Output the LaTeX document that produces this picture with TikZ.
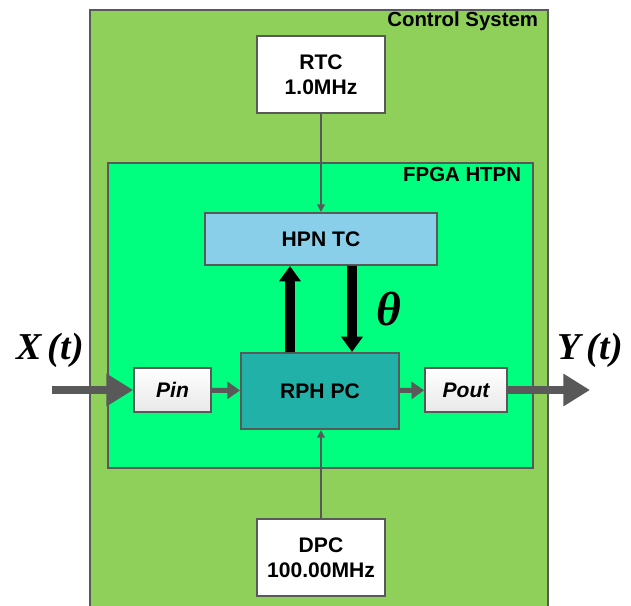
\documentclass[tikz,border=0pt]{standalone}
\usepackage{amsmath,amssymb}
\usepackage{fontspec}
\setmainfont{Liberation Sans}
\newfontfamily\timesfont{Liberation Serif}
\usepackage{tikz}
\usetikzlibrary{arrows.meta,positioning,calc}
\definecolor{EdgeGray}{HTML}{595959}
\definecolor{CtrlGreen}{HTML}{8FD05A}
\definecolor{FpgaGreen}{HTML}{00FF7F}
\definecolor{HpnBlue}{HTML}{8ACFEA}
\definecolor{RphTeal}{HTML}{21B1A8}

\begin{document}
\begin{tikzpicture}[x=0.025cm, y=-0.025cm,
  every node/.style={font=\bfseries\fontsize{14.5}{17}\selectfont},
  clkbox/.style={draw=EdgeGray, line width=1.6pt, fill=white, align=center, minimum width=3.2cm, minimum height=1.925cm, font=\bfseries\fontsize{15}{18}\selectfont},
  portbox/.style={draw=EdgeGray, line width=1.2pt, top color=white, bottom color=black!9, minimum height=1.1cm, font=\bfseries\itshape\fontsize{15}{17}\selectfont},
  flow/.style={-{Triangle[width=12pt,length=9pt]}, line width=3.6pt, draw=EdgeGray},
  bigflow/.style={-{Triangle[width=22pt,length=19pt]}, line width=5.5pt, draw=EdgeGray},
  thin/.style={-{Triangle[width=5.5pt,length=5.5pt]}, line width=1.1pt, draw=EdgeGray},
  fat/.style={-{Triangle[width=15pt,length=11pt]}, line width=7pt, draw=black},
  mathlbl/.style={font=\timesfont\bfseries\itshape\fontsize{27}{30}\selectfont}]
\useasboundingbox (0,0) rectangle (631,605);
% containers
\begin{scope}
\clip (0,0) rectangle (631,605);
\draw[draw=EdgeGray, line width=1.2pt, fill=CtrlGreen] (90,10) rectangle (548,612);
\end{scope}
\node[anchor=east] (ctrllbl) at (543,21) {Control System};
\draw[draw=EdgeGray, line width=1.4pt, fill=FpgaGreen] (108,163) rectangle (533,468);
\node[anchor=east] (fpgalbl) at (526,174) {FPGA HTPN};
% blocks
\node[clkbox] (rtc) at (321,74.5) {RTC\\1.0MHz};
\node[clkbox] (dpc) at (321,557.5) {DPC\\100.00MHz};
\node[draw=EdgeGray, line width=1.4pt, fill=HpnBlue, minimum width=5.8cm, minimum height=1.3cm, font=\bfseries\fontsize{15}{17}\selectfont] (hpn) at (321,239) {HPN TC};
\node[draw=EdgeGray, line width=1.4pt, fill=RphTeal, minimum width=3.95cm, minimum height=1.9cm, font=\bfseries\fontsize{15}{17}\selectfont] (rph) at (320,391) {RPH PC};
\node[portbox, minimum width=1.925cm] (pin) at (172.5,390) {Pin};
\node[portbox, minimum width=2.05cm] (pout) at (466,390) {Pout};
\coordinate (xin) at (52,390);
\coordinate (yout) at (590,390);
% connectors
\draw[thin] (rtc) -- (rtc |- hpn.north);
\draw[thin] (dpc) -- (dpc |- rph.south);
\draw[bigflow] (xin) -- (pin);
\draw[flow] (pin) -- (rph);
\draw[flow] (rph) -- (pout);
\draw[bigflow] (pout) -- (yout);
\draw[fat] ([xshift=-0.75cm]rph.north) -- ([xshift=-0.775cm]hpn.south);
\draw[fat] ([xshift=0.775cm]hpn.south) -- ([xshift=0.8cm]rph.north);
% labels
\node[mathlbl, font=\timesfont\bfseries\itshape\fontsize{34}{36}\selectfont] (theta) at (389,309) {θ};
\node[mathlbl] (xlbl) at (50,350) {X\,(t)};
\node[mathlbl] (ylbl) at (590,350) {Y\,(t)};
\end{tikzpicture}
\end{document}
